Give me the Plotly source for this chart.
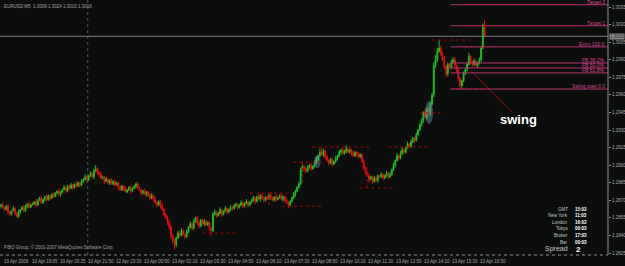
import plotly.graph_objects as go

# ---------------- data (prices in pips above 1.2800) ----------------
BASE = 1.28
PIP = 0.0001
first_open = 65
closes = [
    66, 64, 62, 65, 60, 58, 61, 63, 59, 56, 60, 62, 64, 61, 65, 67, 64, 66,
    67, 69, 66, 70, 72, 68, 71, 73, 70, 74, 72, 75, 73, 76, 78, 75, 77,
    79, 81, 78, 82, 80, 83, 81, 84, 82, 85, 83, 86,
    88, 90, 87, 91, 93, 90, 95, 97, 94,
    92, 89, 90, 86, 88, 85, 87, 84, 86,
    83, 85, 81, 79, 82, 80, 77, 79, 81, 78, 80, 82,
    84, 81, 79, 76, 78, 75, 77, 74, 72,
    74, 71, 68, 66, 69,
    65, 62, 58, 55, 52,
    47, 40, 35, 32,
    38, 42, 40, 44, 41, 39, 43,
    47, 50, 46, 52, 55, 51, 48, 53,
    50, 52, 49, 51,
    46, 44, 58,
    60, 57, 59, 62, 58, 61, 63, 60, 62, 64,
    63, 65, 67, 64, 66, 68, 65, 67, 69, 66, 68,
    70, 72, 69, 73, 71, 74,
    72, 70, 73, 71, 74, 72, 70, 73, 71, 72, 74, 71, 73,
    70, 68, 66, 69,
    72, 75, 78, 81, 84,
    96, 99, 97,
    95, 98, 100, 97, 99, 102,
    105, 108, 111, 109, 112,
    107, 104, 102, 105, 101, 103, 106, 108,
    111, 113, 110, 112, 114, 111, 113,
    110, 108, 111, 109, 107, 109,
    103, 98, 94, 91,
    88, 90, 86, 89, 87, 91,
    90, 92, 89, 91, 93, 90, 92,
    96, 100, 104, 108, 106, 110,
    113, 111, 115, 118, 116, 120, 123, 121, 126, 130, 134,
    138, 145, 141, 148, 144, 152,
    160, 185, 190,
    197, 200, 195,
    190, 184, 178,
    186, 183, 188,
    190, 185, 181,
    174, 168,
    172, 178,
    182, 186,
    193, 188,
    186, 189,
    185, 187, 190,
    200, 218, 210,
]
wick_up = [
    1, 2, 0, 1, 2, 1, 0, 2, 1, 1, 2, 0, 1, 2, 1, 0, 2, 1,
    1, 0, 2, 1, 1, 2, 0, 1, 2, 1, 0, 1, 2, 1, 0, 2, 1,
    1, 2, 0, 1, 1, 2, 1, 0, 2, 1, 1, 2,
    1, 2, 1, 0, 2, 1, 2, 3, 1,
    1, 2, 1, 0, 2, 1, 1, 2, 1,
    2, 1, 0, 2, 1, 1, 2, 0, 1, 2, 1, 1,
    1, 2, 1, 0, 1, 2, 1, 1, 2,
    2, 1, 2, 1, 1,
    1, 2, 1, 1, 2,
    1, 2, 1, 2,
    1, 2, 1, 2, 1, 0, 2,
    1, 2, 1, 2, 1, 2, 1, 1,
    1, 2, 1, 1,
    1, 1, 2,
    2, 1, 1, 2, 1, 0, 2, 1, 1, 2,
    1, 2, 1, 0, 1, 2, 1, 1, 2, 0, 1,
    1, 2, 1, 1, 2, 1,
    2, 1, 0, 1, 2, 3, 1, 0, 2, 1, 1, 2, 1,
    1, 2, 1, 1,
    1, 2, 1, 1, 2,
    2, 3, 1,
    1, 2, 1, 2, 1, 2,
    2, 1, 3, 4, 2,
    1, 2, 1, 1, 2, 1, 2, 1,
    2, 1, 2, 1, 3, 1, 1,
    1, 2, 1, 1, 2, 1,
    1, 2, 1, 1,
    2, 1, 1, 2, 1, 1,
    1, 2, 1, 1, 2, 1, 2,
    1, 2, 1, 2, 1, 2,
    2, 1, 1, 2, 1, 2, 1, 1, 2, 1, 2,
    2, 1, 3, 1, 2, 2,
    2, 3, 4,
    3, 7, 2,
    2, 3, 1,
    2, 1, 2,
    2, 2, 1,
    2, 1,
    1, 2,
    1, 2,
    3, 1,
    1, 2,
    1, 1, 2,
    2, 3, 6,
]
wick_dn = [
    2, 1, 1, 0, 2, 1, 1, 0, 2, 1, 1, 2, 0, 1, 1, 2, 1, 0,
    0, 1, 2, 1, 0, 1, 1, 2, 1, 0, 2, 1, 1, 0, 1, 1, 2,
    1, 0, 2, 1, 1, 0, 2, 1, 1, 0, 2, 1,
    1, 1, 2, 0, 1, 1, 2, 1, 2,
    2, 1, 1, 2, 0, 1, 2, 1, 1,
    1, 0, 2, 1, 1, 2, 0, 1, 1, 2, 1, 0,
    2, 1, 1, 2, 1, 0, 2, 1, 2,
    1, 2, 1, 2, 1,
    2, 1, 2, 1, 3,
    2, 3, 2, 4,
    2, 1, 2, 1, 1, 2, 1,
    1, 1, 2, 1, 1, 2, 2, 1,
    1, 2, 1, 1,
    2, 4, 1,
    1, 2, 1, 1, 2, 1, 1, 2, 1, 1,
    2, 1, 1, 2, 1, 1, 2, 1, 0, 2, 1,
    1, 1, 2, 1, 1, 2,
    1, 2, 1, 1, 0, 2, 1, 1, 2, 1, 0, 1, 2,
    2, 1, 3, 1,
    1, 1, 2, 1, 1,
    1, 2, 2,
    2, 1, 1, 2, 1, 1,
    1, 2, 1, 1, 2,
    2, 1, 2, 1, 2, 1, 1, 2,
    1, 2, 1, 1, 2, 1, 1,
    2, 1, 1, 2, 1, 1,
    1, 2, 2, 1,
    3, 1, 2, 1, 1, 2,
    1, 1, 2, 1, 1, 2, 1,
    1, 1, 2, 1, 2, 1,
    1, 2, 1, 1, 2, 1, 1, 2, 1, 1, 1,
    1, 2, 1, 2, 1, 2,
    1, 2, 2,
    2, 1, 2,
    1, 2, 3,
    2, 1, 1,
    1, 2, 2,
    2, 3,
    2, 1,
    1, 2,
    1, 2,
    2, 1,
    1, 2, 1,
    2, 1, 1,
]

total_slots = 347            # bar slots visible across the chart (incl. right shift)
time_label_bars = [1, 17, 33, 49, 65, 81, 97, 113, 129, 145, 161, 177, 193, 209, 225, 241, 257, 273]
time_labels = ["10 Apr 2009", "10 Apr 19:05", "10 Apr 20:25", "10 Apr 21:50", "12 Apr 23:30",
               "13 Apr 00:50", "13 Apr 02:10", "13 Apr 03:30", "13 Apr 04:50", "13 Apr 06:10",
               "13 Apr 07:30", "13 Apr 08:50", "13 Apr 10:10", "13 Apr 11:30", "13 Apr 12:50",
               "13 Apr 14:10", "13 Apr 15:30", "13 Apr 16:50"]
price_labels = ["1.2825", "1.2840", "1.2855", "1.2870", "1.2885", "1.2900", "1.2915", "1.2930",
                "1.2945", "1.2960", "1.2975", "1.2990", "1.3005", "1.3020", "1.3035"]
separator_bar = 49.5

# Fibonacci tool
fib_entry = 201
fib_start = 165
fib_from_bar = 256.5
fib_names = ["Target 2", "Target 1", "Entry 100.0", "FB 38.2%", "FB 50.0%", "FB 61.8%", "Swing start 0.0"]
fib_ratios = [-1.0, -0.5, 0.0, 0.382, 0.5, 0.618, 1.0]

# dotted high/low marks: (bar from, bar to, pips)
mark_h = [(115, 134, 42), (142, 164, 76), (160.5, 183, 65), (167, 184, 102.7), (177.7, 211, 115.5),
          (204.6, 224, 80.5), (221, 244, 115.5), (239, 251, 144.5), (246, 270, 206.8),
          (264, 279, 200.9), (256.5, 275, 165)]
mark_v = [(172, 84.8, 102.7), (209, 80.5, 102), (153, 66, 76)]
arrow_line = [(268, 181), (291.4, 145.4)]
highlights = [(180.5, 103, 1.9, 5.5), (244.3, 145, 2.3, 9.8)]   # bar, pips, half-w bars, half-h pips

info_names = ["GMT", "New York", "London", "Tokyo", "Broker", "Bar"]
info_times = ["15:03", "11:03", "16:03", "00:03", "17:03", "00:03"]
spread_value = "2"
header_text = "EURUSD,M5  1.3009 1.3024 1.3010 1.3016"
footer_text = "FIBO Group, \u00a9 2001-2007 MetaQuotes Software Corp."

# ---------------- build ----------------
def px(v):
    return BASE + v * PIP

n = len(closes)
idx = list(range(n))
opens = [first_open] + closes[:-1]
o = [px(v) for v in opens]
c = [px(v) for v in closes]
h = [px(max(a, b) + u) for a, b, u in zip(opens, closes, wick_up)]
lo = [px(min(a, b) - d) for a, b, d in zip(opens, closes, wick_dn)]

BG = "#0c0e0e"
GREEN = "#1fbf1f"
RED = "#e01010"
FONT = "Liberation Sans"
MARK = "#a80000"
FIBC = "#b8336e"

fig = go.Figure()
fig.add_trace(go.Candlestick(
    x=idx, open=o, high=h, low=lo, close=c,
    increasing=dict(line=dict(color=GREEN, width=1), fillcolor=GREEN),
    decreasing=dict(line=dict(color=RED, width=1), fillcolor=RED),
    whiskerwidth=0, hoverinfo="skip", showlegend=False,
))

shapes = []
annotations = []
xmax = total_slots - 0.6

# day separator
shapes.append(dict(type="line", xref="x", yref="paper", x0=separator_bar, x1=separator_bar, y0=0, y1=1,
                   line=dict(color="#5a5a5a", width=1, dash="dot"), layer="below"))

# highlight ellipses
for b, p, hw, hh in highlights:
    shapes.append(dict(type="circle", xref="x", yref="y", x0=b - hw, x1=b + hw, y0=px(p - hh), y1=px(p + hh),
                       fillcolor="rgba(110,150,170,0.45)", line=dict(width=0), layer="above"))

# dotted marks
for b0, b1, p in mark_h:
    shapes.append(dict(type="line", xref="x", yref="y", x0=b0, x1=b1, y0=px(p), y1=px(p),
                       line=dict(color=MARK, width=1, dash="dot")))
for b, p0, p1 in mark_v:
    shapes.append(dict(type="line", xref="x", yref="y", x0=b, x1=b, y0=px(p0), y1=px(p1),
                       line=dict(color=MARK, width=1, dash="dot")))
(ab0, ap0), (ab1, ap1) = arrow_line
shapes.append(dict(type="line", xref="x", yref="y", x0=ab0, x1=ab1, y0=px(ap0), y1=px(ap1),
                   line=dict(color="#9a0a0a", width=1)))

# fib levels
rng = fib_entry - fib_start
for name, r in zip(fib_names, fib_ratios):
    lvl = px(fib_entry - r * rng)
    shapes.append(dict(type="line", xref="x", yref="y", x0=fib_from_bar, x1=xmax, y0=lvl, y1=lvl,
                       line=dict(color=FIBC, width=1)))
    annotations.append(dict(x=1, xref="paper", y=lvl, yref="y", text=name, showarrow=False,
                            xanchor="right", yanchor="bottom", xshift=-1, yshift=-2,
                            font=dict(family=FONT, size=5, color="#d2478e")))

# current price line
last = px(closes[-1])
shapes.append(dict(type="line", xref="paper", yref="y", x0=0, x1=1, y0=last, y1=last,
                   line=dict(color="#7a7a7a", width=1)))
annotations.append(dict(x=1, xref="paper", y=last, yref="y", text=f"{last:.4f}", showarrow=False,
                        xanchor="left", yanchor="middle", xshift=1, bgcolor="#8c8c8c", borderpad=0,
                        font=dict(family=FONT, size=4.5, color="#1a1a1a")))

# frame
shapes.append(dict(type="line", xref="paper", yref="paper", x0=1, x1=1, y0=0, y1=1,
                   line=dict(color="#8a8a8a", width=1)))
shapes.append(dict(type="line", xref="paper", yref="paper", x0=0, x1=1, y0=0, y1=0,
                   line=dict(color="#8a8a8a", width=1, dash="dot")))

# time labels
for b, t in zip(time_label_bars, time_labels):
    annotations.append(dict(x=b, xref="x", y=0, yref="paper", text=t, showarrow=False,
                            xanchor="left", yanchor="top", xshift=-1, yshift=-2,
                            font=dict(family=FONT, size=4.5, color="#a8a8a8")))

# header / footer
annotations.append(dict(x=0, xref="paper", y=1, yref="paper", text=header_text, showarrow=False,
                        xanchor="left", yanchor="top", xshift=2, yshift=-2,
                        font=dict(family=FONT, size=4.5, color="#a0a0a0")))
annotations.append(dict(x=0, xref="paper", y=0, yref="paper", text=footer_text, showarrow=False,
                        xanchor="left", yanchor="bottom", xshift=2, yshift=3,
                        font=dict(family=FONT, size=4.5, color="#a0a0a0")))

# swing label
annotations.append(dict(x=0.852, xref="paper", y=0.53, yref="paper", text="<b>swing</b>", showarrow=False,
                        xanchor="center", yanchor="middle",
                        font=dict(family=FONT, size=13, color="#ffffff")))

# info box
for k, (nm, tv) in enumerate(zip(info_names, info_times)):
    yy = 1 - (209 + 6.6 * k) / 255
    annotations.append(dict(x=0.9375, xref="paper", y=yy, yref="paper", text=nm, showarrow=False,
                            xanchor="right", yanchor="middle",
                            font=dict(family=FONT, size=4.5, color="#c8c8c8")))
    annotations.append(dict(x=0.942, xref="paper", y=yy, yref="paper", text=f"<b>{tv}</b>", showarrow=False,
                            xanchor="left", yanchor="middle",
                            font=dict(family=FONT, size=4.5, color="#ffffff")))
yy = 1 - 249 / 255
annotations.append(dict(x=0.9375, xref="paper", y=yy, yref="paper", text="Spread", showarrow=False,
                        xanchor="right", yanchor="middle", font=dict(family=FONT, size=7, color="#c8c8c8")))
annotations.append(dict(x=0.944, xref="paper", y=yy, yref="paper", text=f"<b>{spread_value}</b>", showarrow=False,
                        xanchor="left", yanchor="middle", font=dict(family=FONT, size=8, color="#ffffff")))

fig.update_layout(
    width=625, height=266,
    margin=dict(l=0, r=17, t=0, b=11),
    paper_bgcolor=BG, plot_bgcolor=BG,
    showlegend=False,
    shapes=shapes, annotations=annotations,
    xaxis=dict(range=[-0.57, xmax], showgrid=False, zeroline=False, showticklabels=False,
               rangeslider=dict(visible=False), fixedrange=True),
    yaxis=dict(range=[1.28233, 1.30410], side="right", showgrid=False, zeroline=False,
               tickvals=[float(s) for s in price_labels], ticktext=price_labels,
               ticks="outside", ticklen=2, tickcolor="#8a8a8a",
               tickfont=dict(family=FONT, size=4.5, color="#a8a8a8"), fixedrange=True),
)

fig.write_html("out.html")
